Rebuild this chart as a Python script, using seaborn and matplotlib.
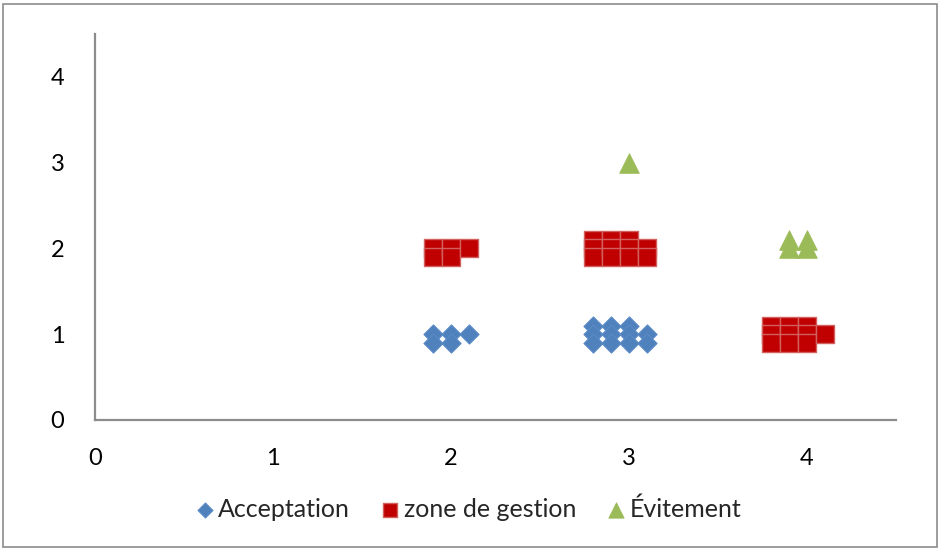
import matplotlib
matplotlib.use("Agg")
import matplotlib.pyplot as plt
from matplotlib.patches import Rectangle
import seaborn as sns
import pandas as pd

# Acceptation points
acc_x = [1.9, 1.9, 2.0, 2.0, 2.1,
         2.8, 2.8, 2.8, 2.9, 2.9, 2.9, 3.0, 3.0, 3.0, 3.1, 3.1]
acc_y = [1.0, 0.9, 1.0, 0.9, 1.0,
         1.1, 1.0, 0.9, 1.1, 1.0, 0.9, 1.1, 1.0, 0.9, 1.0, 0.9]

# zone de gestion points
zone_x = [1.9, 1.9, 2.0, 2.0, 2.1,
          2.8, 2.8, 2.8, 2.9, 2.9, 2.9, 3.0, 3.0, 3.0, 3.1, 3.1,
          3.8, 3.8, 3.8, 3.9, 3.9, 3.9, 4.0, 4.0, 4.0, 4.1]
zone_y = [2.0, 1.9, 2.0, 1.9, 2.0,
          2.1, 2.0, 1.9, 2.1, 2.0, 1.9, 2.1, 2.0, 1.9, 2.0, 1.9,
          1.1, 1.0, 0.9, 1.1, 1.0, 0.9, 1.1, 1.0, 0.9, 1.0]

# Évitement points
evit_x = [3.0, 3.9, 3.9, 4.0, 4.0]
evit_y = [3.0, 2.1, 2.0, 2.1, 2.0]

series_names = ["Acceptation", "zone de gestion", "Évitement"]
ticks = [0, 1, 2, 3, 4]

sns.set_theme(style="white")
plt.rcParams["font.family"] = ["Lato", "DejaVu Sans"]

fig = plt.figure(figsize=(9.4, 5.5), dpi=100)
ax = fig.add_axes([95 / 940, 130 / 550, 801 / 940, 386 / 550])

df_acc = pd.DataFrame({"x": acc_x, "y": acc_y})
df_zone = pd.DataFrame({"x": zone_x, "y": zone_y})
df_evit = pd.DataFrame({"x": evit_x, "y": evit_y})

sns.scatterplot(data=df_acc, x="x", y="y", ax=ax, marker="D", s=95,
                color="#4F81BD", edgecolor="#5B8AC6", linewidth=0.8,
                label=series_names[0], zorder=3)
sns.scatterplot(data=df_zone, x="x", y="y", ax=ax, marker="s", s=185,
                color="#C00000", edgecolor="#D2605E", linewidth=1.0,
                label=series_names[1], zorder=3)
sns.scatterplot(data=df_evit, x="x", y="y", ax=ax, marker="^", s=200,
                color="#9BBB59", edgecolor="#9BBB59", linewidth=0.6,
                label=series_names[2], zorder=3)

ax.set_xlim(0, 4.5)
ax.set_ylim(0, 4.5)
ax.set_xticks(ticks)
ax.set_yticks(ticks)
ax.set_xticklabels([str(t) for t in ticks])
ax.set_yticklabels([str(t) for t in ticks])
ax.set_xlabel("")
ax.set_ylabel("")
ax.tick_params(axis="both", length=0, labelsize=17, labelcolor="black")
ax.tick_params(axis="x", pad=20)
ax.tick_params(axis="y", pad=22)

for side in ("top", "right"):
    ax.spines[side].set_visible(False)
for side in ("left", "bottom"):
    ax.spines[side].set_color("#8C8C8C")
    ax.spines[side].set_linewidth(1.6)

handles, labels = ax.get_legend_handles_labels()
ax.get_legend().remove()
fig.legend(handles, labels, loc="center", bbox_to_anchor=(0.5, 1 - 509 / 550),
           ncol=3, frameon=False, fontsize=18, handlelength=0.5,
           handletextpad=0.3, columnspacing=1.35, markerscale=0.78)

fig.add_artist(Rectangle((3 / 940, 3 / 550), 934 / 940, 543 / 550,
                         transform=fig.transFigure, fill=False,
                         edgecolor="#8C8C8C", linewidth=1.2))

fig.savefig("out.png", dpi=100)
